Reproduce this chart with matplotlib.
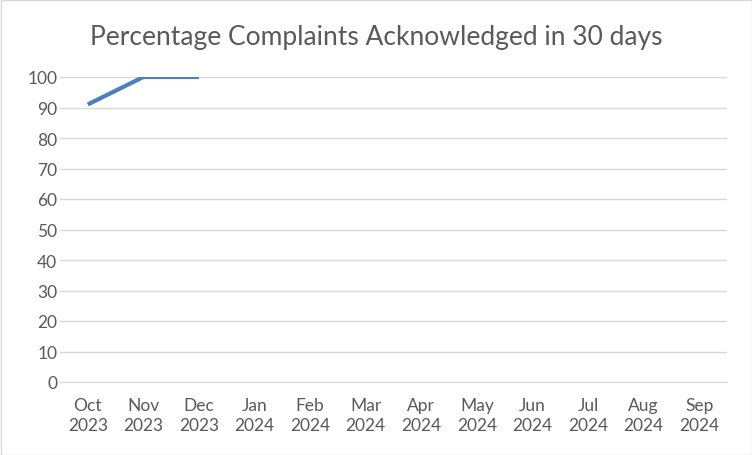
import matplotlib
matplotlib.use("Agg")
import matplotlib.pyplot as plt

months = ["Oct\n2023", "Nov\n2023", "Dec\n2023", "Jan\n2024", "Feb\n2024", "Mar\n2024",
          "Apr\n2024", "May\n2024", "Jun\n2024", "Jul\n2024", "Aug\n2024", "Sep\n2024"]
values = [91, 100, 100]
yticks = list(range(0, 101, 10))

plt.rcParams['font.family'] = ['Lato', 'DejaVu Sans']

fig = plt.figure(figsize=(7.52, 4.56), dpi=100)
fig.patch.set_facecolor("white")
ax = fig.add_axes([60/752, 1-383/456, (727-60)/752, (383-78)/456])

ax.plot(range(len(values)), values, color="#4A7EBF", lw=3.0, solid_capstyle="butt")
ax.set_xlim(-0.5, len(months)-0.5)
ax.set_ylim(0, 100)
ax.set_yticks(yticks)
ax.set_xticks(range(len(months)))
ax.set_xticklabels(months, linespacing=1.3)
ax.grid(axis="y", color="#D9D9D9", lw=1.0)
ax.set_axisbelow(True)
for s in ["top", "right", "left"]:
    ax.spines[s].set_visible(False)
ax.spines["bottom"].set_color("#D9D9D9")
ax.tick_params(length=0, labelsize=12.5, colors="#595959")
ax.tick_params(axis="x", pad=11)
ax.tick_params(axis="y", pad=2)

fig.text(0.5, 1-38/456, "Percentage Complaints Acknowledged in 30 days",
         ha="center", va="center", fontsize=19, color="#595959")

# outer border
fig.add_artist(plt.Rectangle((0.5/752, 0.5/456), 1-1/752, 1-1/456, transform=fig.transFigure,
                             fill=False, edgecolor="#D9D9D9", lw=1.0))

fig.savefig("out.png", dpi=100)
